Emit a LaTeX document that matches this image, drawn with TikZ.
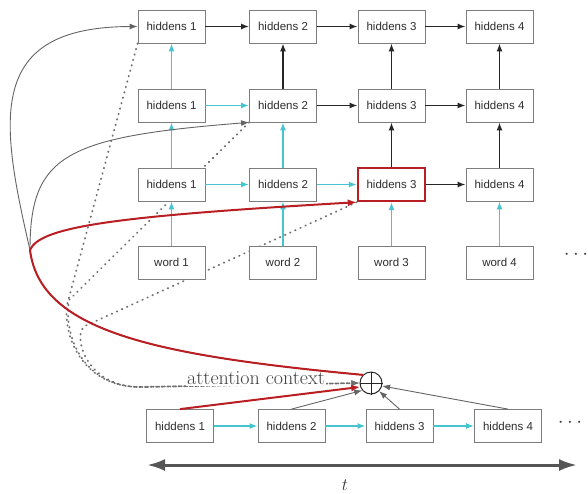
\documentclass[tikz,border=0pt]{standalone}
\usepackage{fontspec}
\newfontfamily\boxfont{Liberation Sans}
\usetikzlibrary{arrows.meta}
\definecolor{cyanarr}{RGB}{72,196,208}
\definecolor{boxgray}{RGB}{125,125,125}
\definecolor{txtgray}{RGB}{45,45,45}
\definecolor{hred}{RGB}{185,30,35}
\definecolor{curvegray}{RGB}{100,100,100}
\definecolor{dotgray}{RGB}{110,110,110}
\definecolor{axisgray}{RGB}{85,85,85}
\pgfdeclarelayer{bg}
\pgfsetlayers{bg,main}
\begin{document}
\begin{tikzpicture}[x=1pt,y=-1pt,
  hbox/.style={draw=boxgray, line width=0.8pt, fill=white, minimum width=67pt, minimum height=33pt, inner sep=0pt, font=\boxfont\fontsize{11.5}{13}\selectfont, text=txtgray},
  hot/.style={draw=hred, line width=2.4pt},
  cyarr/.style={draw=cyanarr, line width=1.4pt, -{Latex[length=8pt,width=6pt]}},
  blarr/.style={draw=black!85, line width=1.4pt, -{Latex[length=8pt,width=6pt]}},
  grarr/.style={draw=curvegray, line width=0.9pt, -{Latex[length=8pt,width=6pt]}},
  redarr/.style={draw=hred, line width=2pt, -{Latex[length=9pt,width=7pt]}},
  dotarr/.style={draw=dotgray, line width=1.8pt, dash pattern=on 0.6pt off 5pt, line cap=round, -{Latex[length=8pt,width=6pt]}},
  axisarr/.style={draw=axisgray, line width=3pt, {Latex[length=18pt,width=12pt]}-{Latex[length=18pt,width=12pt]}},
  dotsnode/.style={font=\fontsize{20}{20}\selectfont, text=black!75, inner sep=0pt}
]
\useasboundingbox (0,0) rectangle (588,493);

% top grid
\node[hbox] (r1c1) at (171.5,26.5) {hiddens 1};
\node[hbox] (r1c2) at (283,26.5) {hiddens 2};
\node[hbox] (r1c3) at (391.5,26.5) {hiddens 3};
\node[hbox] (r1c4) at (499.5,26.5) {hiddens 4};
\node[hbox] (r2c1) at (171.5,105.5) {hiddens 1};
\node[hbox] (r2c2) at (283,105.5) {hiddens 2};
\node[hbox] (r2c3) at (391.5,105.5) {hiddens 3};
\node[hbox] (r2c4) at (499.5,105.5) {hiddens 4};
\node[hbox] (r3c1) at (171.5,184.5) {hiddens 1};
\node[hbox] (r3c2) at (283,184.5) {hiddens 2};
\node[hbox,hot] (r3c3) at (391.5,184.5) {hiddens 3};
\node[hbox] (r3c4) at (499.5,184.5) {hiddens 4};
\node[hbox] (w1) at (171.5,262.5) {word 1};
\node[hbox] (w2) at (283,262.5) {word 2};
\node[hbox] (w3) at (391.5,262.5) {word 3};
\node[hbox] (w4) at (499.5,262.5) {word 4};
\node[dotsnode] (dtop) at (576,255) {$\cdots$};

% bottom row
\node[hbox] (b1) at (180,426) {hiddens 1};
\node[hbox] (b2) at (291.5,426) {hiddens 2};
\node[hbox] (b3) at (399.5,426) {hiddens 3};
\node[hbox] (b4) at (508,426) {hiddens 4};
\node[dotsnode] (dbot) at (570,423) {$\cdots$};

% oplus
\node[circle, draw=black!85, line width=1pt, minimum size=22pt, inner sep=0pt] (ox) at (371,383) {};
\draw[black!85, line width=1pt] (ox.north) -- (ox.south) (ox.west) -- (ox.east);

% vertical arrows
\foreach \i in {1,...,4} \draw[cyarr] (w\i) -- (r3c\i);
\draw[cyarr] (r3c1) -- (r2c1);
\draw[cyarr] (r3c2) -- (r2c2);
\draw[blarr] (r3c3) -- (r2c3);
\draw[blarr] (r3c4) -- (r2c4);
\draw[cyarr] (r2c1) -- (r1c1);
\draw[blarr] (r2c2) -- (r1c2);
\draw[blarr] (r2c3) -- (r1c3);
\draw[blarr] (r2c4) -- (r1c4);
% horizontal arrows
\draw[cyarr] (r3c1) -- (r3c2);
\draw[cyarr] (r3c2) -- (r3c3);
\draw[blarr] (r3c3) -- (r3c4);
\draw[cyarr] (r2c1) -- (r2c2);
\draw[blarr] (r2c2) -- (r2c3);
\draw[blarr] (r2c3) -- (r2c4);
\draw[blarr] (r1c1) -- (r1c2);
\draw[blarr] (r1c2) -- (r1c3);
\draw[blarr] (r1c3) -- (r1c4);
\draw[cyarr] (b1) -- (b2);
\draw[cyarr] (b2) -- (b3);
\draw[cyarr] (b3) -- (b4);

% dotted attention lines (behind boxes)
\coordinate (ja) at (67,305);
\coordinate (jb) at (69,300);
\coordinate (jc) at (85,326);
\coordinate (dt) at (140,387);
\begin{pgfonlayer}{bg}
\draw[dotarr] (r1c1.south west) -- (ja) .. controls (63,340) and (85,387) .. (dt) -- (ox.west);
\draw[dotarr] (r2c2.south west) -- (jb) .. controls (63,338) and (85,387) .. (dt) -- (ox.west);
\draw[dotarr] (r3c3.south west) -- (jc) .. controls (72,334) and (85,387) .. (dt) -- (ox.west);
\end{pgfonlayer}
\node[font=\fontsize{20}{22}\selectfont, fill=white, inner sep=1pt, text=black!75] (att) at (256,378) {attention context};

% curved connections
\coordinate (conv) at (30,250);
\draw[grarr] (ox.north west) .. controls (150,355) and (40,330) .. (conv) .. controls (0,120) and (-15,27) .. (r1c1.west);
\draw[grarr] (ox.north west) .. controls (150,355) and (40,330) .. (conv) .. controls (30,155) and (65,137) .. (r2c2.south west);
\draw[redarr] (ox.north west) .. controls (150,355) and (40,330) .. (conv) .. controls (40,226) and (120,216) .. (r3c3.south west);

% bottom to oplus
\draw[redarr] (b1.north) -- (ox.200);
\draw[grarr] (b2.north) -- (ox.220);
\draw[grarr] (b3.north) -- (ox.315);
\draw[grarr] (b4.north) -- (ox.345);

% time axis
\coordinate (axl) at (147,465);
\coordinate (axr) at (577,465);
\draw[axisarr] (axl) -- (axr);
\node[font=\fontsize{18}{20}\selectfont, text=black!80] (tlab) at (345,485) {$t$};
\end{tikzpicture}
\end{document}
